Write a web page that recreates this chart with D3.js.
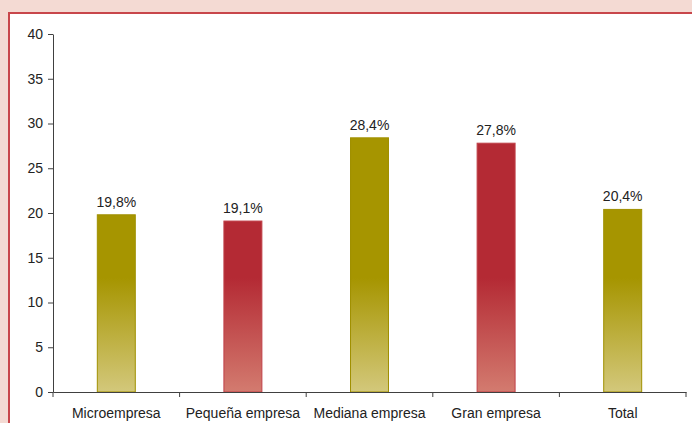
<!DOCTYPE html>
<html>
<head>
<meta charset="utf-8">
<script src="https://cdn.jsdelivr.net/npm/d3@7"></script>
<style>
body { margin: 0; background: #f4dad3; }
</style>
</head>
<body>
<div id="canvas"></div>
<script>
const categories = ['Microempresa', 'Pequeña empresa', 'Mediana empresa', 'Gran empresa', 'Total'];
const values = [19.8, 19.1, 28.4, 27.8, 20.4];
const labels = ['19,8%', '19,1%', '28,4%', '27,8%', '20,4%'];
const palette = ['olive', 'red', 'olive', 'red', 'olive'];
const yTicks = [0, 5, 10, 15, 20, 25, 30, 35, 40];

const w = 692,
    h = 423,
    m_left = 53,
    m_right = 686,
    m_top = 34,
    m_bottom = 392,
    font = 'Liberation Sans, Arial, sans-serif',
    svg = d3.select('#canvas').append('svg')
        .attr('width', w)
        .attr('height', h)
        .style('display', 'block');

// background + panel
svg.append('rect').attr('width', w).attr('height', h).style('fill', '#f4dad3');
svg.append('rect')
    .attr('x', 9).attr('y', 13)
    .attr('width', w).attr('height', h)
    .style('fill', '#ffffff')
    .style('stroke', '#c8464b')
    .style('stroke-width', 2);

const x = d3.scaleBand().domain(categories).range([m_left, m_right]).paddingInner(0.7).paddingOuter(0.35);
const band = d3.scaleBand().domain(categories).range([m_left, m_right]);
const y = d3.scaleLinear().domain([0, 40]).range([m_bottom, m_top]);

const defs = svg.append('defs');
const grads = {
    olive: ['#a69500', '#d3c87b'],
    red: ['#b42a34', '#d37b6f']
};
Object.keys(grads).forEach(k => {
    const g = defs.append('linearGradient')
        .attr('id', 'g-' + k)
        .attr('gradientUnits', 'userSpaceOnUse')
        .attr('x1', 0).attr('x2', 0)
        .attr('y1', 278).attr('y2', m_bottom);
    g.append('stop').attr('offset', 0).attr('stop-color', grads[k][0]);
    g.append('stop').attr('offset', 1).attr('stop-color', grads[k][1]);
});
const strokes = { olive: '#a09000', red: '#c04048' };

svg.selectAll('.bar')
    .data(categories)
    .enter().append('rect')
    .attr('class', 'bar')
    .attr('x', d => x(d))
    .attr('width', x.bandwidth())
    .attr('y', (d, i) => y(values[i]))
    .attr('height', (d, i) => m_bottom - y(values[i]))
    .style('fill', (d, i) => 'url(#g-' + palette[i] + ')')
    .style('stroke', (d, i) => strokes[palette[i]])
    .style('stroke-width', 1);

svg.selectAll('.lbl')
    .data(categories)
    .enter().append('text')
    .attr('x', d => x(d) + x.bandwidth() / 2)
    .attr('y', (d, i) => y(values[i]) - 8)
    .attr('text-anchor', 'middle')
    .attr('font-family', font)
    .attr('font-size', '14px')
    .attr('fill', '#222')
    .text((d, i) => labels[i]);

// y axis
const yAxis = svg.append('g')
    .attr('transform', 'translate(' + m_left + ',0)')
    .call(d3.axisLeft(y).tickValues(yTicks).tickSize(5).tickPadding(5).tickSizeOuter(0));

// x axis with ticks at band boundaries
const xAxis = svg.append('g')
    .attr('transform', 'translate(0,' + m_bottom + ')')
    .call(d3.axisBottom(band).tickSize(0).tickPadding(16).tickSizeOuter(0));
const bounds = categories.map(d => band(d)).concat([m_right]);
xAxis.selectAll('.bound')
    .data(bounds)
    .enter().append('line')
    .attr('x1', d => d).attr('x2', d => d)
    .attr('y1', 0).attr('y2', 5)
    .style('stroke', '#404040');

[yAxis, xAxis].forEach(a => {
    a.select('.domain').style('stroke', '#404040');
    a.selectAll('.tick line').style('stroke', '#404040');
    a.selectAll('text')
        .attr('font-family', font)
        .attr('font-size', '14px')
        .attr('fill', '#222');
});
</script>
</body>
</html>
